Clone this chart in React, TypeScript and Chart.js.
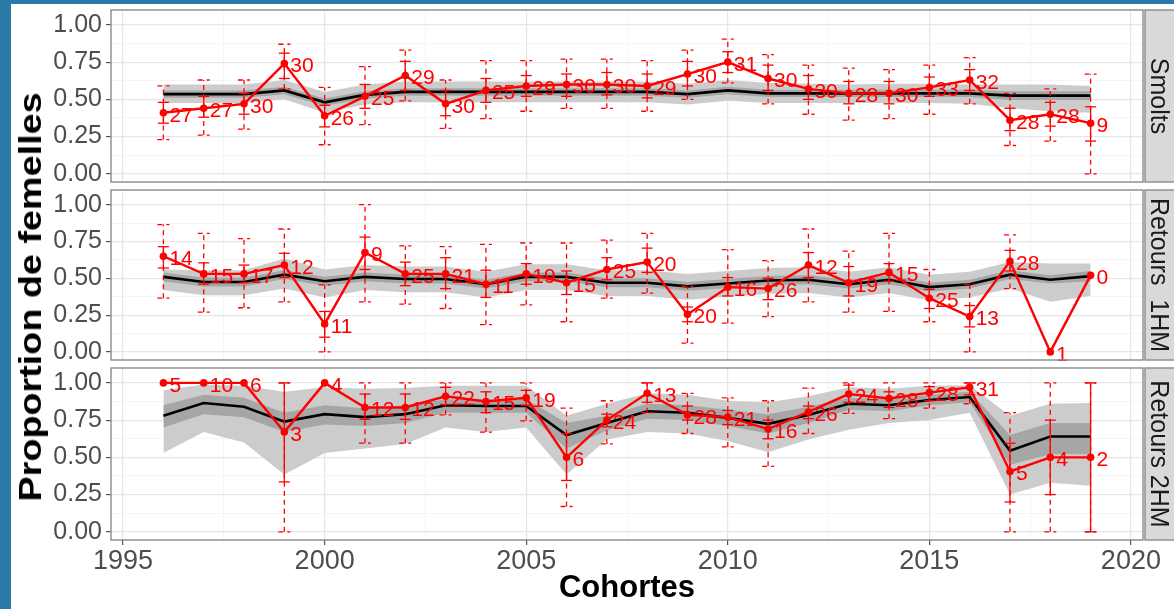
import React, { useEffect, useRef } from "react";
import { Chart, registerables } from "chart.js";

Chart.register(...registerables);

// ---------- data ----------
const years = [1996, 1997, 1998, 1999, 2000, 2001, 2002, 2003, 2004, 2005, 2006, 2007, 2008, 2009, 2010, 2011, 2012, 2013, 2014, 2015, 2016, 2017, 2018, 2019];
const xMajorTicks = [1995, 2000, 2005, 2010, 2015, 2020];
const xMinorTicks = [1997.5, 2002.5, 2007.5, 2012.5, 2017.5];
const xTickLabels = ["1995", "2000", "2005", "2010", "2015", "2020"];
const yMajorTicks = [0, 0.25, 0.5, 0.75, 1];
const yMinorTicks = [0.125, 0.375, 0.625, 0.875];
const yTickLabels = ["0.00", "0.25", "0.50", "0.75", "1.00"];
const stripLabels = ["Smolts", "Retours  1HM", "Retours 2HM"];
const xTitle = "Cohortes";
const yTitle = "Proportion de femelles";

// Smolts
const smoltsObs = [0.41, 0.44, 0.47, 0.74, 0.39, 0.52, 0.66, 0.47, 0.56, 0.59, 0.6, 0.6, 0.59, 0.67, 0.75, 0.64, 0.57, 0.54, 0.54, 0.58, 0.63, 0.36, 0.4, 0.34];
const smoltsN = [27, 27, 30, 30, 26, 25, 29, 30, 25, 29, 30, 30, 29, 30, 31, 30, 30, 28, 30, 33, 32, 28, 28, 9];
const smoltsSeLo = [0.34, 0.38, 0.4, 0.64, 0.315, 0.44, 0.56, 0.39, 0.48, 0.52, 0.52, 0.53, 0.51, 0.59, 0.68, 0.56, 0.5, 0.47, 0.47, 0.52, 0.56, 0.29, 0.32, 0.22];
const smoltsSeHi = [0.48, 0.52, 0.54, 0.81, 0.46, 0.6, 0.755, 0.56, 0.64, 0.66, 0.67, 0.68, 0.67, 0.755, 0.82, 0.73, 0.66, 0.62, 0.62, 0.65, 0.7, 0.44, 0.48, 0.45];
const smoltsCiLo = [0.23, 0.26, 0.3, 0.57, 0.195, 0.33, 0.49, 0.305, 0.37, 0.42, 0.44, 0.44, 0.42, 0.5, 0.61, 0.47, 0.4, 0.36, 0.37, 0.4, 0.47, 0.19, 0.22, 0.0];
const smoltsCiHi = [0.59, 0.63, 0.63, 0.87, 0.58, 0.72, 0.83, 0.63, 0.76, 0.76, 0.77, 0.77, 0.76, 0.83, 0.905, 0.8, 0.73, 0.71, 0.7, 0.73, 0.78, 0.54, 0.57, 0.67];
const smoltsMed = [0.535, 0.535, 0.535, 0.56, 0.48, 0.53, 0.55, 0.55, 0.55, 0.55, 0.55, 0.55, 0.55, 0.535, 0.56, 0.54, 0.54, 0.54, 0.54, 0.54, 0.54, 0.525, 0.525, 0.525];
const smoltsOutLo = [0.475, 0.475, 0.475, 0.5, 0.41, 0.465, 0.48, 0.48, 0.48, 0.48, 0.48, 0.48, 0.48, 0.465, 0.49, 0.475, 0.475, 0.475, 0.475, 0.475, 0.47, 0.44, 0.42, 0.41];
const smoltsOutHi = [0.6, 0.6, 0.6, 0.63, 0.55, 0.6, 0.62, 0.62, 0.62, 0.62, 0.62, 0.62, 0.62, 0.605, 0.63, 0.61, 0.605, 0.6, 0.605, 0.605, 0.6, 0.6, 0.6, 0.59];
const smoltsInLo = [0.51, 0.51, 0.51, 0.535, 0.455, 0.505, 0.525, 0.525, 0.525, 0.525, 0.525, 0.525, 0.525, 0.51, 0.535, 0.515, 0.515, 0.515, 0.515, 0.515, 0.515, 0.495, 0.495, 0.495];
const smoltsInHi = [0.56, 0.56, 0.56, 0.585, 0.505, 0.555, 0.575, 0.575, 0.575, 0.575, 0.575, 0.575, 0.575, 0.56, 0.585, 0.565, 0.565, 0.565, 0.565, 0.565, 0.565, 0.555, 0.555, 0.555];

// Retours 1HM
const r1Obs = [0.65, 0.53, 0.53, 0.59, 0.19, 0.675, 0.53, 0.53, 0.46, 0.53, 0.47, 0.56, 0.61, 0.255, 0.44, 0.43, 0.59, 0.47, 0.54, 0.365, 0.24, 0.615, 0.0, 0.52];
const r1N = [14, 15, 17, 12, 11, 9, 25, 21, 11, 19, 15, 25, 20, 20, 16, 26, 12, 19, 15, 25, 13, 28, 1, 0];
const r1SeLo = [0.57, 0.46, 0.47, 0.505, 0.1, 0.56, 0.45, 0.43, 0.37, 0.46, 0.39, 0.49, 0.54, 0.205, 0.38, 0.355, 0.505, 0.38, 0.48, 0.295, 0.17, 0.55, null, null];
const r1SeHi = [0.715, 0.605, 0.59, 0.67, 0.275, 0.78, 0.61, 0.64, 0.555, 0.6, 0.55, 0.64, 0.705, 0.305, 0.505, 0.5, 0.675, 0.58, 0.6, 0.425, 0.315, 0.69, null, null];
const r1CiLo = [0.365, 0.27, 0.3, 0.34, 0.0, 0.34, 0.325, 0.295, 0.185, 0.32, 0.205, 0.365, 0.4, 0.06, 0.195, 0.24, 0.34, 0.27, 0.275, 0.205, 0.0, 0.43, null, null];
const r1CiHi = [0.865, 0.805, 0.77, 0.835, 0.455, 1.0, 0.72, 0.715, 0.73, 0.74, 0.74, 0.76, 0.805, 0.445, 0.695, 0.62, 0.835, 0.685, 0.805, 0.56, 0.46, 0.795, null, null];
const r1Med = [0.51, 0.475, 0.475, 0.525, 0.48, 0.51, 0.495, 0.495, 0.46, 0.51, 0.51, 0.47, 0.47, 0.445, 0.465, 0.485, 0.49, 0.46, 0.49, 0.44, 0.46, 0.525, 0.49, 0.515];
const r1OutLo = [0.42, 0.385, 0.385, 0.43, 0.37, 0.42, 0.405, 0.405, 0.37, 0.42, 0.42, 0.38, 0.38, 0.355, 0.375, 0.395, 0.4, 0.37, 0.4, 0.35, 0.37, 0.43, 0.34, 0.38];
const r1OutHi = [0.56, 0.555, 0.555, 0.635, 0.56, 0.59, 0.58, 0.58, 0.545, 0.595, 0.595, 0.555, 0.555, 0.53, 0.55, 0.57, 0.575, 0.545, 0.575, 0.525, 0.545, 0.61, 0.6, 0.6];
const r1InLo = [0.48, 0.445, 0.445, 0.495, 0.45, 0.48, 0.465, 0.465, 0.43, 0.48, 0.48, 0.44, 0.44, 0.415, 0.435, 0.455, 0.46, 0.43, 0.46, 0.41, 0.43, 0.495, 0.465, 0.48];
const r1InHi = [0.54, 0.505, 0.505, 0.555, 0.51, 0.54, 0.525, 0.525, 0.49, 0.54, 0.54, 0.5, 0.5, 0.475, 0.495, 0.515, 0.52, 0.49, 0.52, 0.47, 0.49, 0.555, 0.52, 0.55];

// Retours 2HM
const r2Obs = [1.0, 1.0, 1.0, 0.67, 1.0, 0.835, 0.835, 0.91, 0.875, 0.9, 0.5, 0.75, 0.93, 0.785, 0.77, 0.69, 0.805, 0.925, 0.895, 0.935, 0.97, 0.405, 0.5, 0.5];
const r2N = [5, 10, 6, 3, 4, 12, 12, 22, 15, 19, 6, 24, 13, 28, 21, 16, 26, 24, 28, 28, 31, 5, 4, 2];
const r2SeLo = [null, null, null, 0.335, null, 0.755, 0.755, 0.855, 0.8, 0.85, 0.345, 0.705, 0.87, 0.75, 0.72, 0.625, 0.76, 0.87, 0.835, 0.88, 0.92, 0.2, 0.25, 0.0];
const r2SeHi = [null, null, null, 1.0, null, 0.925, 0.925, 0.97, 0.94, 0.95, 0.66, 0.79, 1.0, 0.845, 0.815, 0.75, 0.845, 0.985, 0.94, 0.975, 1.0, 0.595, 0.75, 1.0];
const r2CiLo = [null, null, null, 0.0, null, 0.595, 0.595, 0.785, 0.67, 0.745, 0.17, 0.59, 0.8, 0.66, 0.57, 0.44, 0.66, 0.795, 0.76, 0.83, 0.86, 0.0, 0.0, 0.0];
const r2CiHi = [null, null, null, 1.0, null, 1.0, 1.0, 1.0, 1.0, 1.0, 0.83, 0.88, 1.0, 0.93, 0.9, 0.88, 0.965, 1.0, 1.0, 1.0, 1.0, 0.8, 1.0, 1.0];
const r2Med = [0.78, 0.865, 0.84, 0.74, 0.79, 0.77, 0.79, 0.85, 0.845, 0.845, 0.65, 0.73, 0.81, 0.8, 0.765, 0.725, 0.785, 0.86, 0.85, 0.885, 0.905, 0.545, 0.64, 0.64];
const r2OutLo = [0.53, 0.67, 0.6, 0.385, 0.53, 0.56, 0.59, 0.7, 0.67, 0.7, 0.385, 0.62, 0.67, 0.66, 0.61, 0.535, 0.62, 0.685, 0.73, 0.75, 0.8, 0.25, 0.33, 0.31];
const r2OutHi = [0.95, 0.99, 0.98, 0.94, 0.97, 0.96, 0.965, 0.98, 0.98, 0.98, 0.78, 0.86, 0.93, 0.92, 0.88, 0.87, 0.91, 0.97, 0.96, 0.98, 0.985, 0.78, 0.86, 0.865];
const r2InLo = [0.7, 0.79, 0.77, 0.67, 0.72, 0.71, 0.73, 0.8, 0.8, 0.8, 0.56, 0.68, 0.76, 0.75, 0.71, 0.66, 0.73, 0.82, 0.81, 0.85, 0.87, 0.45, 0.52, 0.52];
const r2InHi = [0.85, 0.92, 0.9, 0.8, 0.85, 0.83, 0.85, 0.89, 0.89, 0.89, 0.73, 0.78, 0.86, 0.85, 0.82, 0.79, 0.84, 0.9, 0.89, 0.92, 0.94, 0.65, 0.73, 0.73];

// ---------- styling ----------
const FONT = '"Liberation Sans", Arial, Helvetica, sans-serif';
const RED = "#ff0000";

const isIn = (arr: number[], v: number) => arr.some((a) => Math.abs(a - v) < 1e-9);

const decorPlugin = {
  id: "decor",
  afterDatasetsDraw(chart: any, _args: any, opts: any) {
    const { ctx, chartArea: a, scales } = chart;
    const xs = scales.x;
    const ys = scales.y;
    const seg = (x1: number, y1: number, x2: number, y2: number) => {
      ctx.beginPath();
      ctx.moveTo(x1, y1);
      ctx.lineTo(x2, y2);
      ctx.stroke();
    };
    ctx.save();
    ctx.beginPath();
    ctx.rect(a.left, a.top - 2, a.right - a.left, a.bottom - a.top + 4);
    ctx.clip();
    ctx.strokeStyle = RED;
    ctx.lineWidth = 1.3;
    ctx.setLineDash([5, 4]);
    opts.years.forEach((yr: number, i: number) => {
      const lo = opts.ciLo[i];
      const hi = opts.ciHi[i];
      if (lo == null || hi == null) return;
      const x = xs.getPixelForValue(yr);
      const yl = ys.getPixelForValue(lo);
      const yh = ys.getPixelForValue(hi);
      seg(x, yl, x, yh);
      seg(x - 6, yl, x + 6, yl);
      seg(x - 6, yh, x + 6, yh);
    });
    ctx.setLineDash([]);
    opts.years.forEach((yr: number, i: number) => {
      const lo = opts.seLo[i];
      const hi = opts.seHi[i];
      if (lo == null || hi == null) return;
      const x = xs.getPixelForValue(yr);
      const yl = ys.getPixelForValue(lo);
      const yh = ys.getPixelForValue(hi);
      seg(x, yl, x, yh);
      seg(x - 5.5, yl, x + 5.5, yl);
      seg(x - 5.5, yh, x + 5.5, yh);
    });
    ctx.restore();

    ctx.save();
    ctx.font = `21px ${FONT}`;
    ctx.fillStyle = RED;
    ctx.textAlign = "left";
    ctx.textBaseline = "middle";
    opts.years.forEach((yr: number, i: number) => {
      const x = xs.getPixelForValue(yr);
      const y = ys.getPixelForValue(opts.obs[i]);
      ctx.fillText(String(opts.n[i]), x + 6, y + 3);
    });
    ctx.restore();
  },
  afterDraw(chart: any, _args: any, opts: any) {
    const { ctx, chartArea: a } = chart;
    ctx.save();
    ctx.strokeStyle = "#8a8a8a";
    ctx.lineWidth = 1.4;
    ctx.strokeRect(a.left, a.top, a.right - a.left, a.bottom - a.top);
    const sx = a.right + 2;
    ctx.fillStyle = "#d9d9d9";
    ctx.fillRect(sx, a.top, 40, a.bottom - a.top);
    ctx.strokeRect(sx, a.top, 40, a.bottom - a.top);
    ctx.translate(sx + 13, (a.top + a.bottom) / 2);
    ctx.rotate(Math.PI / 2);
    ctx.font = `25px ${FONT}`;
    ctx.fillStyle = "#1a1a1a";
    ctx.textAlign = "center";
    ctx.textBaseline = "middle";
    ctx.fillText(opts.strip, 0, 0);
    ctx.restore();
  },
};

type PanelProps = {
  top: number;
  height: number;
  padTop: number;
  padBottom: number;
  bottomAxis: boolean;
  strip: string;
  obs: number[];
  n: number[];
  seLo: (number | null)[];
  seHi: (number | null)[];
  ciLo: (number | null)[];
  ciHi: (number | null)[];
  med: number[];
  outLo: number[];
  outHi: number[];
  inLo: number[];
  inHi: number[];
};

const pts = (arr: number[]) => years.map((x, i) => ({ x, y: arr[i] }));

function Panel(p: PanelProps) {
  const ref = useRef<HTMLCanvasElement | null>(null);
  useEffect(() => {
    if (!ref.current) return;
    const band = (data: number[], fill: any, color: string, order: number) => ({
      data: pts(data),
      borderWidth: 0,
      borderColor: "rgba(0,0,0,0)",
      backgroundColor: color,
      pointRadius: 0,
      fill,
      tension: 0,
      order,
    });
    const chart = new Chart(ref.current, {
      type: "line",
      data: {
        datasets: [
          band(p.outLo, false, "#cccccc", 10),
          band(p.outHi, "-1", "#cccccc", 10),
          band(p.inLo, false, "#a6a6a6", 9),
          band(p.inHi, "-1", "#a6a6a6", 9),
          {
            data: pts(p.med),
            borderColor: "#000000",
            borderWidth: 2.6,
            pointRadius: 0,
            fill: false,
            tension: 0,
            order: 5,
          },
          {
            data: pts(p.obs),
            borderColor: RED,
            borderWidth: 2.4,
            pointRadius: 3.8,
            pointBackgroundColor: RED,
            pointBorderWidth: 0,
            fill: false,
            tension: 0,
            order: 1,
          },
        ],
      } as any,
      options: {
        animation: false,
        responsive: false,
        maintainAspectRatio: false,
        events: [],
        layout: { padding: { top: p.padTop, bottom: p.padBottom, left: 0, right: 31 } },
        plugins: {
          legend: { display: false },
          tooltip: { enabled: false },
          decor: {
            years,
            obs: p.obs,
            n: p.n,
            seLo: p.seLo,
            seHi: p.seHi,
            ciLo: p.ciLo,
            ciHi: p.ciHi,
            strip: p.strip,
          },
        } as any,
        scales: {
          x: {
            type: "linear",
            min: 1994.7,
            max: 2020.3,
            afterBuildTicks: (s: any) => {
              s.ticks = [...xMajorTicks, ...xMinorTicks].sort((a, b) => a - b).map((v) => ({ value: v }));
            },
            afterFit: (s: any) => {
              s.height = p.bottomAxis ? 69 : 0;
              s.paddingLeft = 0;
              s.paddingRight = 0;
              s.paddingTop = 0;
              s.paddingBottom = 0;
            },
            border: { display: false },
            grid: {
              color: (c: any) => (isIn(xMajorTicks, c.tick?.value) ? "#e6e6e6" : "#f2f2f2"),
              lineWidth: (c: any) => (isIn(xMajorTicks, c.tick?.value) ? 1.2 : 0.8),
              drawTicks: p.bottomAxis,
              tickLength: 5,
              tickColor: (c: any) => (isIn(xMajorTicks, c.tick?.value) ? "#555555" : "rgba(0,0,0,0)"),
            },
            ticks: {
              display: p.bottomAxis,
              autoSkip: false,
              maxRotation: 0,
              padding: 0,
              color: "#4d4d4d",
              font: { family: FONT, size: 27 },
              callback: (v: any) => {
                const i = xMajorTicks.indexOf(Number(v));
                return i >= 0 ? xTickLabels[i] : "";
              },
            },
            title: {
              display: p.bottomAxis,
              text: xTitle,
              color: "#000000",
              font: { family: FONT, size: 31, weight: "bold" },
              padding: { top: 0, bottom: 2 },
            },
          },
          y: {
            type: "linear",
            min: -0.055,
            max: 1.1,
            afterBuildTicks: (s: any) => {
              s.ticks = [...yMajorTicks, ...yMinorTicks].sort((a, b) => a - b).map((v) => ({ value: v }));
            },
            afterFit: (s: any) => {
              s.width = 111;
              s.paddingLeft = 0;
              s.paddingRight = 0;
              s.paddingTop = 0;
              s.paddingBottom = 0;
            },
            border: { display: false },
            grid: {
              color: (c: any) => (isIn(yMajorTicks, c.tick?.value) ? "#e6e6e6" : "#f2f2f2"),
              lineWidth: (c: any) => (isIn(yMajorTicks, c.tick?.value) ? 1.2 : 0.8),
              drawTicks: true,
              tickLength: 5,
              tickColor: (c: any) => (isIn(yMajorTicks, c.tick?.value) ? "#555555" : "rgba(0,0,0,0)"),
            },
            ticks: {
              autoSkip: false,
              padding: 4,
              color: "#4d4d4d",
              font: { family: FONT, size: 25 },
              callback: (v: any) => {
                const i = yMajorTicks.indexOf(Number(v));
                return i >= 0 ? yTickLabels[i] : "";
              },
            },
          },
        },
      } as any,
      plugins: [decorPlugin as any],
    });
    return () => chart.destroy();
  }, []);
  return (
    <canvas
      ref={ref}
      width={1174}
      height={p.height}
      style={{ position: "absolute", left: 0, top: p.top, width: 1174, height: p.height }}
    />
  );
}

export default function App() {
  return (
    <div
      style={{
        position: "fixed",
        left: 0,
        top: 0,
        width: 1174,
        height: 609,
        background: "#ffffff",
        overflow: "hidden",
      }}
    >
      <div style={{ position: "absolute", left: 0, top: 0, width: 11, height: 609, background: "#2b79a7" }} />
      <div style={{ position: "absolute", left: 0, top: 0, width: 1174, height: 4, background: "#2b79a7" }} />
      <Panel
        top={0}
        height={186}
        padTop={10}
        padBottom={3}
        bottomAxis={false}
        strip={stripLabels[0]}
        obs={smoltsObs}
        n={smoltsN}
        seLo={smoltsSeLo}
        seHi={smoltsSeHi}
        ciLo={smoltsCiLo}
        ciHi={smoltsCiHi}
        med={smoltsMed}
        outLo={smoltsOutLo}
        outHi={smoltsOutHi}
        inLo={smoltsInLo}
        inHi={smoltsInHi}
      />
      <Panel
        top={186}
        height={178}
        padTop={2}
        padBottom={3}
        bottomAxis={false}
        strip={stripLabels[1]}
        obs={r1Obs}
        n={r1N}
        seLo={r1SeLo}
        seHi={r1SeHi}
        ciLo={r1CiLo}
        ciHi={r1CiHi}
        med={r1Med}
        outLo={r1OutLo}
        outHi={r1OutHi}
        inLo={r1InLo}
        inHi={r1InHi}
      />
      <Panel
        top={364}
        height={245}
        padTop={3}
        padBottom={0}
        bottomAxis={true}
        strip={stripLabels[2]}
        obs={r2Obs}
        n={r2N}
        seLo={r2SeLo}
        seHi={r2SeHi}
        ciLo={r2CiLo}
        ciHi={r2CiHi}
        med={r2Med}
        outLo={r2OutLo}
        outHi={r2OutHi}
        inLo={r2InLo}
        inHi={r2InHi}
      />
      <div style={{ position: "absolute", left: 30, top: 297, width: 0, height: 0 }}>
        <div
          style={{
            position: "absolute",
            left: 0,
            top: 0,
            transform: "translate(-50%, -50%) rotate(-90deg) scaleX(1.18)",
            font: `bold 32px ${FONT}`,
            color: "#000000",
            whiteSpace: "nowrap",
            lineHeight: "1",
          }}
        >
          {yTitle}
        </div>
      </div>
    </div>
  );
}
